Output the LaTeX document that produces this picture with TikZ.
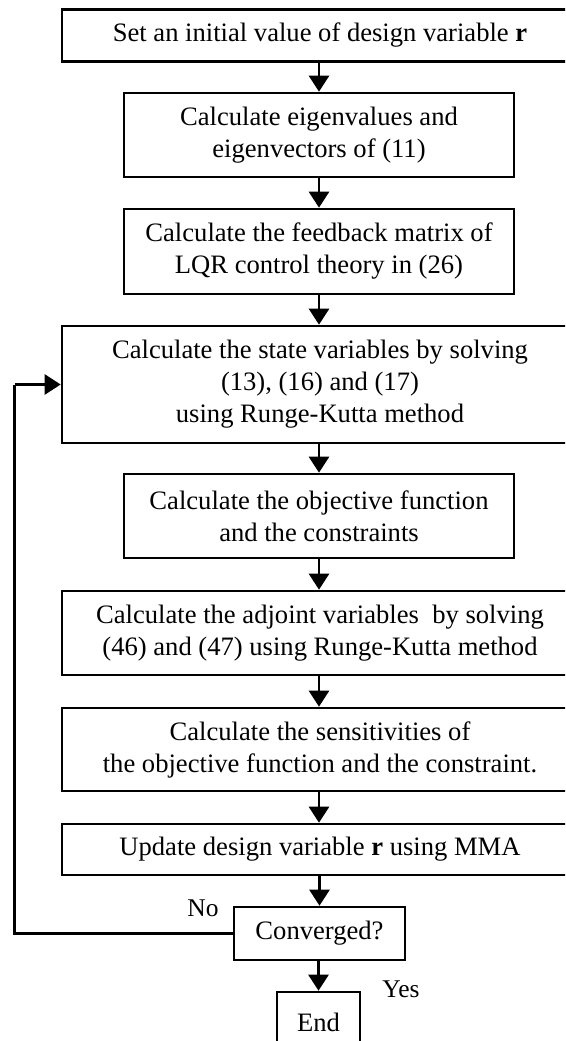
\documentclass[tikz,border=0pt]{standalone}
\usepackage{fontspec}
\setmainfont{Liberation Serif}
\usetikzlibrary{arrows.meta}
\begin{document}
\begin{tikzpicture}[x=1pt,y=-1pt,
  box/.style={draw,line width=2.6pt,rectangle,inner sep=0pt,align=center,
    font=\fontsize{26.6}{32}\selectfont},
  lbl/.style={font=\fontsize{25.5}{28}\selectfont,inner sep=0pt},
  conn/.style={line width=2.6pt,-{Triangle[length=16pt,width=20pt]}},
  loopline/.style={line width=2.6pt}]
\useasboundingbox (0,0) rectangle (565,1041);
\begin{scope}
\clip (0,0) rectangle (565,1041);
\node[box,minimum width=516pt,minimum height=52pt] (b1) at (320,35.5) {Set an initial value of design variable \textbf{r}};
\node[box,minimum width=390pt,minimum height=84pt] (b2) at (319,135) {Calculate eigenvalues and\\eigenvectors of (11)};
\node[box,minimum width=390pt,minimum height=85pt] (b3) at (319,251.5) {Calculate the feedback matrix of\\LQR control theory in (26)};
\node[box,minimum width=516pt,minimum height=117pt] (b4) at (320,384.5) {Calculate the state variables by solving\\(13), (16) and (17)\\using Runge-Kutta method};
\node[box,minimum width=390pt,minimum height=84pt] (b5) at (319,516) {Calculate the objective function\\and the constraints};
\node[box,minimum width=516pt,minimum height=84pt] (b6) at (320,633) {Calculate the adjoint variables\ \ by solving\\(46) and (47) using Runge-Kutta method};
\node[box,minimum width=516pt,minimum height=83pt] (b7) at (320,749.5) {Calculate the sensitivities of\\the objective function and the constraint.};
\node[box,minimum width=516pt,minimum height=51pt] (b8) at (320,849.5) {Update design variable \textbf{r} using MMA};
\node[box,minimum width=171pt,minimum height=53pt] (b9) at (319.5,933.5) {Converged?};
\node[box,minimum width=83pt,minimum height=60pt] (b10) at (318.5,1022) {End};
\node[lbl] (no) at (203,908.5) {No};
\node[lbl] (yes) at (401,989) {Yes};
\coordinate (lb) at (14.7,933.5);
\coordinate (lt) at (14.7,384.5);
\draw[conn] (b1.south -| b2) -- (b2);
\draw[conn] (b2) -- (b3);
\draw[conn] (b3) -- (b4.north -| b3);
\draw[conn] (b4.south -| b5) -- (b5);
\draw[conn] (b5) -- (b6.north -| b5);
\draw[conn] (b6.south -| b5) -- (b7.north -| b5);
\draw[conn] (b7.south -| b5) -- (b8.north -| b5);
\draw[conn] (b8.south -| b9) -- (b9);
\draw[conn] (b9.south -| b10) -- (b10);
\draw[loopline] (b9.west) -- (lb) -- (lt);
\draw[conn] (lt) -- (b4.west);
\end{scope}
\end{tikzpicture}
\end{document}
